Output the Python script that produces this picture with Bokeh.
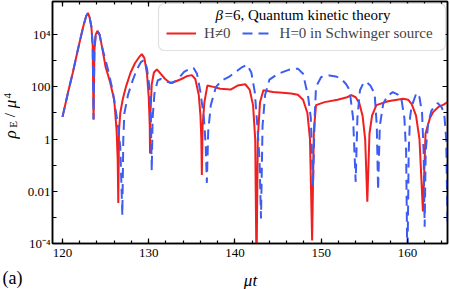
import math
from bokeh.plotting import figure
from bokeh.layouts import row, column
from bokeh.models import (Range1d, FixedTicker, LinearAxis, LogAxis, Label,
                          Legend, LegendItem, BoxAnnotation)
from bokeh.embed import file_html
from bokeh.resources import INLINE

# ---------------- data ----------------
t_red = [120.0, 120.7, 121.2, 121.8, 122.4, 122.75, 122.95, 123.15, 123.35, 123.5,
         123.6, 123.7, 123.85, 124.05, 124.3, 124.6, 125.0, 125.5, 126.0, 126.28,
         126.4, 126.47, 126.55, 126.7, 127.0, 127.4, 127.9, 128.4, 128.9, 129.2,
         129.5, 129.8, 130.0, 130.12, 130.15, 130.2, 130.35, 130.6, 130.95, 131.4,
         131.9, 132.5, 133.1, 133.8, 134.5, 135.0, 135.4, 135.8, 136.0, 136.1,
         136.16, 136.25, 136.45, 136.8, 137.5, 138.3, 139.5, 140.3, 141.2, 141.7,
         142.1, 142.35, 142.5, 142.65, 142.9, 143.3, 144.4, 145.5, 146.5, 147.3,
         147.9, 148.4, 148.7, 148.95, 149.15, 149.4, 150.4, 151.9, 153.0, 153.5,
         154.0, 154.4, 154.8, 155.1, 155.35, 155.6, 155.9, 156.4, 157.75, 159.5,
         160.1, 160.5, 161.0, 161.4, 161.8, 162.1, 162.6, 163.0, 163.6, 164.2,
         164.8]
rho_red = [7.1, 74, 355, 2800, 2.0e4, 5.2e4, 6.8e4, 4.5e4, 2.0e4, 4000,
           5.6, 2500, 1.0e4, 1.4e4, 1.0e4, 3200, 575, 160, 31, 2.0,
           0.16, 0.0036, 2.0, 10, 35, 112, 355, 800, 1400, 1800,
           1260, 316, 40, 3.2, 0.28, 10, 126, 355, 470, 316,
           200, 141, 160, 200, 263, 282, 200, 50, 7.9, 1.0,
           0.042, 3.2, 25, 112, 100, 85, 79, 112, 126, 79,
           20, 1.0, 1e-5, 1.0, 25, 74, 63, 60, 56, 50,
           32, 10, 1.0, 1.3e-4, 2.0, 20, 26, 32, 40, 48,
           40, 25, 7.9, 1.0, 0.004, 1.6, 7.9, 20, 28, 35,
           32, 22, 7.9, 1.0, 0.0017, 1.6, 6.2, 11, 17, 21,
           28]

t_blue = [120.0, 120.7, 121.2, 121.8, 122.4, 122.75, 122.95, 123.15, 123.35, 123.5,
          123.6, 123.7, 123.85, 124.05, 124.3, 124.6, 125.2, 125.8, 126.4, 126.7,
          126.94, 127.05, 127.17, 127.6, 128.14, 128.6, 129.1, 129.5, 129.8, 130.08,
          130.25, 130.35, 130.45, 130.66, 131.05, 131.4, 132.0, 132.75, 133.4, 134.1,
          134.7, 135.2, 135.6, 136.0, 136.4, 136.6, 136.74, 136.9, 137.2, 137.8,
          138.5, 139.3, 140.2, 140.8, 141.4, 141.9, 142.3, 142.6, 142.85, 143.02,
          143.2, 143.5, 144.0, 145.0, 146.3, 147.3, 147.9, 148.5, 148.8, 149.05,
          149.25, 149.4, 150.0, 150.97, 151.7, 152.3, 152.9, 153.3, 153.7, 154.0,
          154.2, 154.5, 154.9, 155.23, 155.7, 156.2, 156.45, 156.6, 156.8, 157.2,
          157.7, 158.3, 158.9, 159.3, 159.65, 159.85, 160.0, 160.15, 160.3, 160.47,
          161.05, 161.4, 161.7, 161.88, 162.0, 162.12, 162.4, 162.8, 163.5, 164.0,
          164.3, 164.5, 164.65]
rho_blue = [7.1, 74, 355, 2800, 2.0e4, 5.2e4, 6.8e4, 4.5e4, 2.0e4, 4000,
            5.6, 2500, 1.0e4, 1.4e4, 1.0e4, 3200, 575, 79, 4.0, 0.5,
            0.0012, 1.0, 9.5, 50, 178, 447, 890, 1100, 500, 100,
            6.3, 0.06, 6.3, 55, 178, 200, 158, 141, 200, 372,
            479, 525, 316, 63, 6.3, 0.63, 0.021, 2.0, 20, 100,
            178, 240, 400, 562, 708, 355, 63, 3.2, 0.16, 0.00091,
            3.2, 50, 190, 316, 457, 500, 316, 40, 6.3, 0.016,
            7.9, 100, 240, 275, 251, 209, 126, 74, 6.3, 0.023,
            6.3, 74, 141, 155, 112, 55, 3.2, 0.011, 3.2, 23,
            45, 63, 50, 35, 6.3, 0.32, 1e-5, 0.32, 6.3, 17,
            59, 40, 10, 0.32, 0.00044, 0.32, 4.0, 12.6, 24, 16,
            7.1, 1.0, 0.00063]

x_major_ticks = [120, 130, 140, 150, 160]
x_minor_ticks = list(range(120, 166, 2))
y_major_ticks = [0.0001, 0.01, 1, 100, 10000]
y_minor_ticks = [0.001, 0.1, 10, 1000]
y_tick_labels = ["10\u207b\u2074", "0.01", "1", "100", "10\u2074"]

legend_beta = "\u03b2"
legend_title = "=6, Quantum kinetic theory"
label_red = "H\u22600"
label_blue = "H=0 in Schwinger source"

RED = "#F02020"
BLUE = "#3D5CF2"
SERIF = "Liberation Serif"

# ---------------- main figure ----------------
p = figure(width=430, height=262, y_axis_type="log",
           x_range=Range1d(118.84, 164.65), y_range=Range1d(1e-4, 10 ** 5.27),
           output_backend="svg", toolbar_location=None,
           min_border_left=32, min_border_right=3, min_border_top=1,
           min_border_bottom=19, x_axis_location=None, y_axis_location=None)
p.grid.visible = False
p.outline_line_color = "black"
p.outline_line_width = 1.5
p.background_fill_color = "white"
p.border_fill_color = "white"

xt = FixedTicker(ticks=x_major_ticks, minor_ticks=x_minor_ticks)
yt = FixedTicker(ticks=y_major_ticks, minor_ticks=y_minor_ticks)
y_overrides = {v: s for v, s in zip(y_major_ticks, y_tick_labels)}


def style_axis(ax):
    ax.axis_line_color = "black"
    ax.axis_line_width = 1.5
    ax.major_tick_in = 5
    ax.major_tick_out = 0
    ax.minor_tick_in = 3
    ax.minor_tick_out = 0
    ax.major_tick_line_color = "black"
    ax.minor_tick_line_color = "black"
    ax.major_tick_line_width = 1.2
    ax.minor_tick_line_width = 1.2
    ax.major_label_text_font = SERIF
    ax.major_label_text_font_size = "13px"
    ax.major_label_text_color = "black"


xb = LinearAxis(ticker=xt)
style_axis(xb)
xb.major_label_standoff = 5
p.add_layout(xb, "below")

xa = LinearAxis(ticker=xt, major_label_overrides={v: "" for v in x_major_ticks})
style_axis(xa)
xa.major_label_standoff = 0
p.add_layout(xa, "above")

yl = LogAxis(ticker=yt, major_label_overrides=y_overrides)
style_axis(yl)
yl.minor_tick_in = 4
yl.major_label_standoff = 2
p.add_layout(yl, "left")

yr = LogAxis(ticker=yt, major_label_overrides={v: "" for v in y_major_ticks})
style_axis(yr)
yr.minor_tick_in = 4
yr.major_label_standoff = 0
p.add_layout(yr, "right")

r_red = p.line(t_red, rho_red, line_color=RED, line_width=2)
r_blue = p.line(t_blue, rho_blue, line_color=BLUE, line_width=2, line_dash="10 6")

# legend frame (rounded, light grey)
box = BoxAnnotation(left=106, right=393, top=240, bottom=193,
                    left_units="screen", right_units="screen",
                    top_units="screen", bottom_units="screen",
                    fill_color="white", fill_alpha=1.0,
                    line_color="#9A9A9A", line_width=1.2, border_radius=6)
p.add_layout(box)

legend = Legend(items=[LegendItem(label=label_red, renderers=[r_red]),
                       LegendItem(label=label_blue, renderers=[r_blue])],
                orientation="horizontal", location=(114, 200), padding=0,
                spacing=11, glyph_width=30, glyph_height=20, label_standoff=8,
                label_text_font=SERIF, label_text_font_size="15px",
                border_line_alpha=0, background_fill_alpha=0, margin=0)
p.add_layout(legend)

p.add_layout(Label(x=163, y=229, x_units="screen", y_units="screen",
                   text=legend_beta, text_align="left", text_baseline="middle",
                   text_font=SERIF, text_font_size="15px", text_font_style="italic",
                   text_color="black"))
p.add_layout(Label(x=172, y=229, x_units="screen", y_units="screen",
                   text=legend_title, text_align="left", text_baseline="middle",
                   text_font=SERIF, text_font_size="15px", text_color="black"))


def strip(w, h):
    f = figure(width=w, height=h, x_range=Range1d(0, w), y_range=Range1d(0, h),
               output_backend="svg", toolbar_location=None, title=None,
               min_border=0, x_axis_location=None, y_axis_location=None)
    f.grid.visible = False
    f.outline_line_color = None
    f.background_fill_color = "white"
    f.border_fill_color = "white"
    return f


# left strip: rotated y-axis title  rho_E / mu^4
pl = strip(20, 262)
ang = math.pi / 2
for txt, x, y, size, style in [("\u03c1", 9.5, 118, "17px", "italic"),
                               ("E", 12.5, 129, "11px", "normal"),
                               ("/", 9.5, 139, "15px", "normal"),
                               ("\u03bc", 9.5, 151, "17px", "italic"),
                               ("4", 6.5, 160, "11px", "normal")]:
    pl.add_layout(Label(x=x, y=y, text=txt, angle=ang, text_align="center",
                        text_baseline="middle", text_font=SERIF,
                        text_font_size=size, text_font_style=style,
                        text_color="black"))

# bottom strip: x-axis title and panel tag
pb = strip(450, 27)
pb.add_layout(Label(x=250, y=9, text="\u03bct", text_align="center",
                    text_baseline="middle", text_font=SERIF, text_font_size="17px",
                    text_font_style="italic", text_color="black"))
pb.add_layout(Label(x=2, y=12, text="(a)", text_align="left",
                    text_baseline="middle", text_font=SERIF, text_font_size="18px",
                    text_color="black"))

layout = column(row(pl, p), pb)
open("out.html", "w").write(file_html(layout, INLINE))
